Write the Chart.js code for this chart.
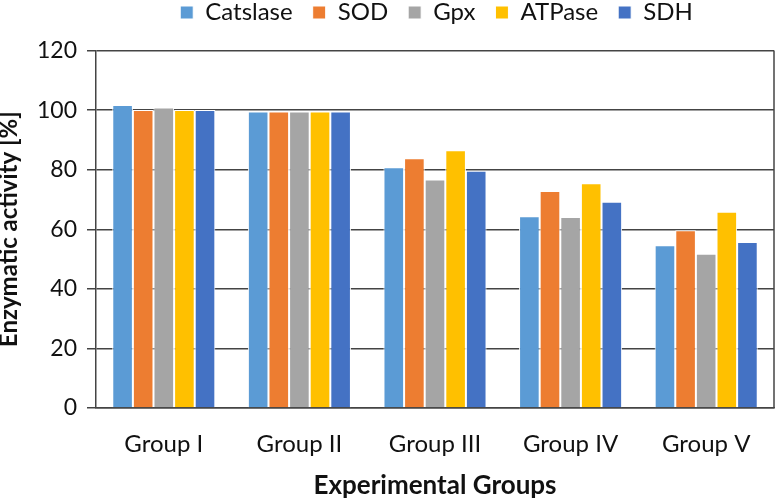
<!DOCTYPE html>
<html><head><meta charset="utf-8">
<script src="https://cdn.jsdelivr.net/npm/chart.js@4"></script>
<style>html,body{margin:0;padding:0;background:#fff}#wrap{width:775px;height:504px}</style>
</head><body><div id="wrap"><canvas id="c" width="775" height="504"></canvas></div>
<script>
const categories = ["Group I","Group II","Group III","Group IV","Group V"];
const catslase = [101.7, 99.5, 80.8, 64.4, 54.6];
const sod      = [100.0, 99.5, 83.8, 72.8, 59.7];
const gpx      = [100.9, 99.5, 76.7, 64.1, 51.8];
const atpase   = [100.0, 99.5, 86.5, 75.4, 65.9];
const sdh      = [100.0, 99.5, 79.6, 69.2, 55.7];
const yTicks = [0,20,40,60,80,100,120];
const seriesNames = ["Catslase","SOD","Gpx","ATPase","SDH"];
const colors = ["#5B9BD5","#ED7D31","#A5A5A5","#FFC000","#4472C4"];
const allSeries = [catslase, sod, gpx, atpase, sdh];

const FONT = "Lato";
const AXIS = '#444444';
const framePlugin = {
  id:'frame',
  afterLayout(chart){
    // centre the legend row over the plot area, as in the reference
    const lg = chart.legend;
    if (lg) { const shift = 51; lg.left += shift; lg.right += shift; }
  },
  afterDraw(chart){
    const {ctx, chartArea:a} = chart;
    ctx.save(); ctx.strokeStyle=AXIS; ctx.lineWidth=1.5;
    ctx.beginPath(); ctx.moveTo(a.right, a.top); ctx.lineTo(a.right, a.bottom); ctx.stroke();
    ctx.restore();
  }
};
new Chart(document.getElementById('c'), {
  type:'bar',
  data:{labels:categories, datasets: allSeries.map((d,i)=>({
    label:seriesNames[i], data:d, backgroundColor:colors[i],
    borderColor:'#ffffff', borderWidth:1, borderSkipped:'bottom',
    barPercentage:1, categoryPercentage:0.76
  }))},
  options:{
    responsive:false, animation:false, devicePixelRatio:1,
    layout:{padding:{left:-3,right:1,top:-19.5,bottom:0}},
    plugins:{
      legend:{position:'top', labels:{font:{family:FONT,size:24}, color:'#111', boxWidth:13, boxHeight:13, padding:20}},
      subtitle:{display:true, text:'', position:'top', weight:500, font:{size:1,lineHeight:1}, padding:{top:15,bottom:0}},
      tooltip:{enabled:false}
    },
    scales:{
      x:{
        grid:{display:false},
        border:{display:true,color:AXIS,width:1.5},
        ticks:{font:{family:FONT,size:24}, color:'#111', padding:14},
        title:{display:true, text:'Experimental Groups', font:{family:FONT,size:26,weight:'bold'}, color:'#111', padding:{top:4,bottom:3}},
        afterFit(s){ s.height = 96; }
      },
      y:{
        min:0,max:120,
        afterBuildTicks(s){ s.ticks = yTicks.map(v=>({value:v})); },
        grid:{color:AXIS, lineWidth:1.5, tickLength:9, drawTicks:true},
        border:{display:true,color:AXIS,width:1.5},
        ticks:{font:{family:FONT,size:23}, color:'#111', padding:10},
        title:{display:true, text:'Enzymatic activity [%]', font:{family:FONT,size:24,weight:'bold',lineHeight:1}, color:'#111', padding:{top:0,bottom:4}},
        afterFit(s){ s.width = 99; }
      }
    }
  },
  plugins:[framePlugin]
});
</script></body></html>
